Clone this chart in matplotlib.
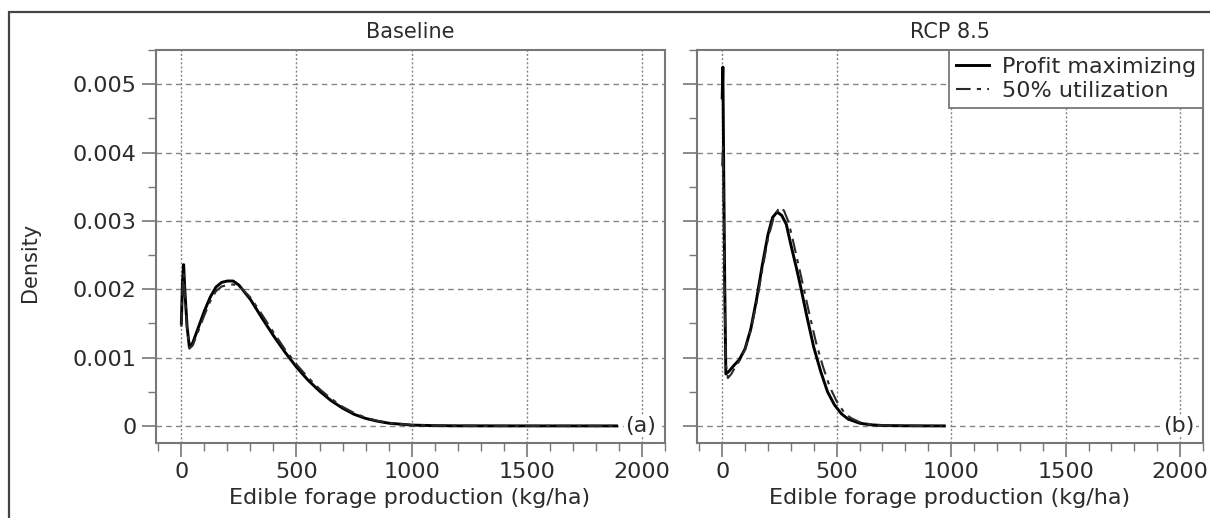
import matplotlib
matplotlib.use("Agg")
import matplotlib.pyplot as plt
from matplotlib.ticker import MultipleLocator
from matplotlib.patches import Rectangle

# ---- data (density x 1e-3) ----
base_profit_x = [0, 5, 10, 15, 25, 35, 50, 75, 100, 125, 150, 175, 200, 225, 250, 300, 350,
                 400, 450, 500, 550, 600, 650, 700, 750, 800, 850, 900, 1000, 1100, 1200,
                 1400, 1600, 1890]
base_profit_y = [1.50, 2.10, 2.36, 2.00, 1.45, 1.15, 1.22, 1.45, 1.68, 1.88, 2.03, 2.10, 2.12,
                 2.12, 2.06, 1.85, 1.58, 1.32, 1.08, 0.86, 0.67, 0.51, 0.37, 0.26, 0.17, 0.11,
                 0.07, 0.04, 0.012, 0.004, 0.0015, 0.0005, 0.0002, 0.0]

base_util_x = [0, 5, 10, 15, 25, 35, 50, 75, 100, 125, 150, 175, 200, 225, 250, 300, 350,
               400, 450, 500, 550, 600, 650, 700, 750, 800, 850, 900, 1000, 1100, 1200,
               1400, 1600, 1880]
base_util_y = [1.45, 2.00, 2.22, 1.95, 1.42, 1.13, 1.18, 1.40, 1.62, 1.82, 1.97, 2.04, 2.06,
               2.07, 2.05, 1.88, 1.63, 1.37, 1.12, 0.90, 0.71, 0.54, 0.40, 0.28, 0.19, 0.12,
               0.075, 0.045, 0.014, 0.005, 0.002, 0.0005, 0.0002, 0.0]

rcp_profit_x = [0, 3, 7, 11, 16, 30, 50, 75, 100, 125, 150, 175, 200, 220, 240, 260, 280, 300,
                325, 345, 370, 400, 430, 460, 490, 520, 550, 600, 650, 700, 800, 900, 970]
rcp_profit_y = [4.80, 5.25, 3.60, 2.10, 0.76, 0.80, 0.88, 0.97, 1.13, 1.42, 1.85, 2.35, 2.80,
                3.05, 3.13, 3.08, 2.95, 2.65, 2.30, 2.00, 1.60, 1.15, 0.80, 0.50, 0.31, 0.18,
                0.10, 0.04, 0.016, 0.006, 0.002, 0.0007, 0.0]

rcp_util_x = [0, 3, 7, 11, 16, 25, 40, 50, 75, 100, 125, 150, 175, 200, 225, 250, 270, 290,
              310, 335, 355, 380, 410, 440, 470, 500, 530, 560, 600, 650, 700, 800, 900, 960]
rcp_util_y = [3.80, 4.10, 3.00, 1.80, 0.90, 0.70, 0.76, 0.82, 0.95, 1.12, 1.40, 1.80, 2.28,
              2.74, 3.05, 3.20, 3.15, 2.98, 2.70, 2.33, 2.03, 1.65, 1.22, 0.87, 0.57, 0.36,
              0.21, 0.12, 0.055, 0.022, 0.008, 0.002, 0.0007, 0.0]

scale = 1e-3
series_labels = ["Profit maximizing", "50% utilization"]
panel_titles = ["Baseline", "RCP 8.5"]
panel_tags = ["(a)", "(b)"]
xticks = [0, 500, 1000, 1500, 2000]
yticks = [0, 0.001, 0.002, 0.003, 0.004, 0.005]
ytick_labels = ["0", "0.001", "0.002", "0.003", "0.004", "0.005"]

W, H = 1210, 518
fig = plt.figure(figsize=(W / 100, H / 100), dpi=100)
fig.patch.set_facecolor("white")

# outer frame around the whole figure
fig.add_artist(Rectangle((9 / W, -0.1), 1.2, 1 - 12 / H + 0.1, transform=fig.transFigure,
                         fill=False, edgecolor="#444444", linewidth=1.6))

spine_col = "#777777"
grid_col = "#858585"
text_col = "#2b2b2b"

positions = [
    [156 / W, 1 - 443 / H, 509 / W, 393 / H],
    [697 / W, 1 - 443 / H, 506 / W, 393 / H],
]
data = [
    (base_profit_x, base_profit_y, base_util_x, base_util_y),
    (rcp_profit_x, rcp_profit_y, rcp_util_x, rcp_util_y),
]
xlabel_centers = [410, 950]

axes = []
for i, pos in enumerate(positions):
    ax = fig.add_axes(pos)
    px, py, ux, uy = data[i]
    ax.plot(px, [v * scale for v in py], color="black", lw=2.1,
            label=series_labels[0], zorder=3)
    ax.plot(ux, [v * scale for v in uy], color="#2a2a2a", lw=1.5,
            linestyle=(0, (7, 3, 2, 3)), label=series_labels[1], zorder=3)

    ax.set_xlim(-110, 2100)
    ax.set_ylim(-0.00025, 0.0055)
    ax.set_xticks(xticks)
    ax.set_xticklabels([str(t) for t in xticks])
    ax.xaxis.set_minor_locator(MultipleLocator(100))
    ax.set_yticks(yticks)
    ax.set_yticklabels(ytick_labels if i == 0 else [])
    ax.yaxis.set_minor_locator(MultipleLocator(0.0005))

    # dotted verticals, dashed horizontals
    ax.xaxis.grid(True, color=grid_col, lw=1.0, linestyle=(0, (1.5, 1.5)))
    ax.yaxis.grid(True, color=grid_col, lw=1.0, linestyle=(0, (4, 3)))
    ax.set_axisbelow(True)

    for s in ax.spines.values():
        s.set_color(spine_col)
        s.set_linewidth(1.5)
    ax.tick_params(which="major", direction="out", length=10, width=1.2,
                   color=spine_col, labelsize=16, labelcolor=text_col, pad=4)
    ax.tick_params(which="minor", direction="out", length=6, width=1.0, color=spine_col)

    ax.set_title(panel_titles[i], fontsize=15, color=text_col, pad=9)
    ax.text(1995, 0, panel_tags[i], fontsize=16, color=text_col, ha="center", va="center",
            bbox=dict(facecolor="white", edgecolor="none", pad=1), zorder=4)
    fig.text(xlabel_centers[i] / W, 1 - 498 / H, "Edible forage production (kg/ha)",
             fontsize=16, color=text_col, ha="center", va="center")
    axes.append(ax)

fig.text(30 / W, 1 - 262 / H, "Density", rotation=90, fontsize=15, color=text_col,
         ha="center", va="center")

leg = axes[1].legend(loc="upper right", borderaxespad=0, fancybox=False, fontsize=16,
                     handlelength=1.5, handletextpad=0.6, labelspacing=0.2,
                     borderpad=0.3, framealpha=1)
leg.get_frame().set_edgecolor(spine_col)
leg.get_frame().set_linewidth(1.3)
for t in leg.get_texts():
    t.set_color(text_col)

fig.savefig("out.png", dpi=100)
